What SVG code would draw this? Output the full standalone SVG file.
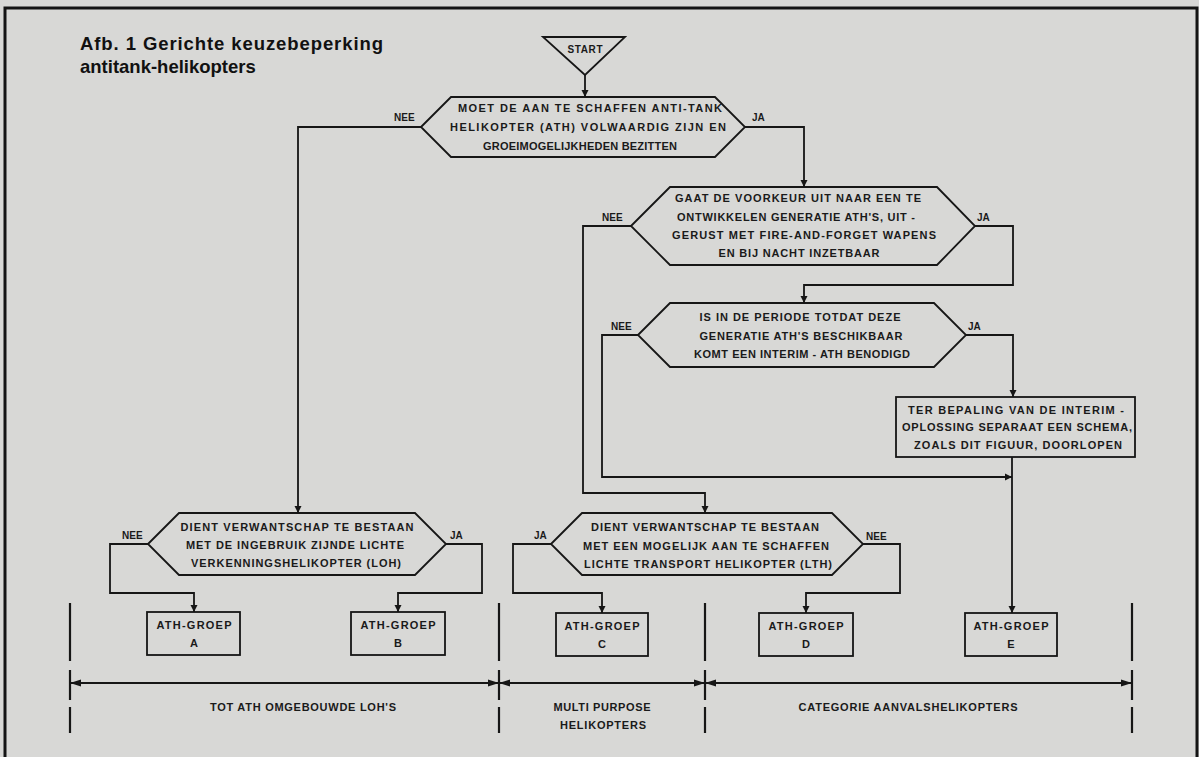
<svg xmlns="http://www.w3.org/2000/svg" width="1199" height="757" viewBox="0 0 1199 757">
<style>
.bg{fill:#d8d8d6}
.frame{stroke:#141414;stroke-width:3;fill:none}
.sh{fill:none;stroke:#161616;stroke-width:1.8;stroke-linejoin:miter}
.ln{fill:none;stroke:#161616;stroke-width:1.8}
.dash{fill:none;stroke:#161616;stroke-width:2.2}
.t{font-family:"Liberation Sans",Arial,sans-serif;font-weight:bold;font-size:11px;fill:#1a1a1a;text-anchor:middle}
.lb{font-family:"Liberation Sans",Arial,sans-serif;font-weight:bold;font-size:10px;fill:#1a1a1a}
.title{font-family:"Liberation Sans",Arial,sans-serif;font-weight:bold;font-size:18.5px;fill:#111}
</style>
<defs>
<marker id="ar" markerWidth="8" markerHeight="12" refX="7" refY="6" orient="auto" markerUnits="userSpaceOnUse">
<path d="M0,2.5 L7,6 L0,9.5 Z" fill="#161616"/>
</marker>
<marker id="ad" markerWidth="12" markerHeight="10" refX="11" refY="5" orient="auto" markerUnits="userSpaceOnUse">
<path d="M0,1.5 L11,5 L0,8.5 Z" fill="#161616"/>
</marker>
</defs>
<rect class="bg" x="0" y="0" width="1199" height="757"/>
<path class="frame" d="M5,757 V8 H1197 V757"/>
<g id="title">
<text class="title" x="80" y="50" textLength="303" lengthAdjust="spacing">Afb. 1  Gerichte keuzebeperking</text>
<text class="title" x="80" y="73">antitank-helikopters</text>
</g>
<g id="start">
<path class="sh" d="M543,37 H625 L585,75 Z"/>
<text class="t" x="585" y="53" style="font-size:10px" textLength="35" lengthAdjust="spacing">START</text>
</g>
<g id="q1">
<path class="sh" d="M421,127 L451,97 H715 L745,127 L715,157 H451 Z"/>
<text class="t" x="590" y="112" textLength="264" lengthAdjust="spacing">MOET DE AAN TE SCHAFFEN ANTI-TANK</text>
<text class="t" x="588" y="131" textLength="276" lengthAdjust="spacing">HELIKOPTER (ATH) VOLWAARDIG ZIJN EN</text>
<text class="t" x="580" y="150" textLength="194" lengthAdjust="spacing">GROEIMOGELIJKHEDEN BEZITTEN</text>
</g>
<g id="q2">
<path class="sh" d="M631,226 L670,187 H937 L975,226 L937,265 H670 Z"/>
<text class="t" x="798" y="202" textLength="246" lengthAdjust="spacing">GAAT DE VOORKEUR UIT NAAR EEN TE</text>
<text class="t" x="796" y="221" textLength="238" lengthAdjust="spacing">ONTWIKKELEN GENERATIE ATH'S, UIT -</text>
<text class="t" x="804" y="239" textLength="264" lengthAdjust="spacing">GERUST MET FIRE-AND-FORGET WAPENS</text>
<text class="t" x="799" y="257" textLength="161" lengthAdjust="spacing">EN BIJ NACHT INZETBAAR</text>
</g>
<g id="q3">
<path class="sh" d="M638,335 L670,303 H934 L966,335 L934,367 H670 Z"/>
<text class="t" x="800" y="321" textLength="201" lengthAdjust="spacing">IS IN DE PERIODE TOTDAT DEZE</text>
<text class="t" x="801" y="340" textLength="203" lengthAdjust="spacing">GENERATIE ATH'S BESCHIKBAAR</text>
<text class="t" x="802" y="358" textLength="216" lengthAdjust="spacing">KOMT EEN INTERIM - ATH BENODIGD</text>
</g>
<g id="interim">
<rect class="sh" x="896" y="397" width="239" height="60"/>
<text class="t" x="1016" y="414" textLength="216" lengthAdjust="spacing">TER BEPALING VAN DE INTERIM -</text>
<text class="t" x="1017" y="431" textLength="230" lengthAdjust="spacing">OPLOSSING SEPARAAT EEN SCHEMA,</text>
<text class="t" x="1018" y="449" textLength="208" lengthAdjust="spacing">ZOALS DIT FIGUUR, DOORLOPEN</text>
</g>
<g id="q4">
<path class="sh" d="M148,544 L179,513 H415 L446,544 L415,575 H179 Z"/>
<text class="t" x="297" y="531" textLength="233" lengthAdjust="spacing">DIENT VERWANTSCHAP TE BESTAAN</text>
<text class="t" x="295" y="549" textLength="218" lengthAdjust="spacing">MET DE INGEBRUIK ZIJNDE LICHTE</text>
<text class="t" x="296" y="567" textLength="210" lengthAdjust="spacing">VERKENNINGSHELIKOPTER (LOH)</text>
</g>
<g id="q5">
<path class="sh" d="M551,544 L582,513 H832 L863,544 L832,575 H582 Z"/>
<text class="t" x="705" y="531" textLength="228" lengthAdjust="spacing">DIENT VERWANTSCHAP TE BESTAAN</text>
<text class="t" x="706" y="550" textLength="246" lengthAdjust="spacing">MET EEN MOGELIJK AAN TE SCHAFFEN</text>
<text class="t" x="708" y="568" textLength="248" lengthAdjust="spacing">LICHTE TRANSPORT HELIKOPTER (LTH)</text>
</g>
<g id="groepA">
<rect class="sh" x="147" y="612" width="93" height="43"/>
<text class="t" x="194" y="629" textLength="75" lengthAdjust="spacing">ATH-GROEP</text>
<text class="t" x="194" y="647">A</text>
</g>
<g id="groepB">
<rect class="sh" x="351" y="612" width="94" height="43"/>
<text class="t" x="398" y="629" textLength="75" lengthAdjust="spacing">ATH-GROEP</text>
<text class="t" x="398" y="647">B</text>
</g>
<g id="groepC">
<rect class="sh" x="556" y="613" width="92" height="43"/>
<text class="t" x="602" y="630" textLength="75" lengthAdjust="spacing">ATH-GROEP</text>
<text class="t" x="602" y="648">C</text>
</g>
<g id="groepD">
<rect class="sh" x="759" y="613" width="94" height="43"/>
<text class="t" x="806" y="630" textLength="75" lengthAdjust="spacing">ATH-GROEP</text>
<text class="t" x="806" y="648">D</text>
</g>
<g id="groepE">
<rect class="sh" x="965" y="613" width="92" height="43"/>
<text class="t" x="1011" y="630" textLength="75" lengthAdjust="spacing">ATH-GROEP</text>
<text class="t" x="1011" y="648">E</text>
</g>
<g id="connectors">
<path class="ln" d="M585,75 V97" marker-end="url(#ar)"/>
<path class="ln" d="M745,127 H804 V187" marker-end="url(#ar)"/>
<path class="ln" d="M421,127 H298 V513" marker-end="url(#ar)"/>
<path class="ln" d="M975,226 H1013 V285 H804 V303" marker-end="url(#ar)"/>
<path class="ln" d="M631,226 H583 V493 H705 V513" marker-end="url(#ar)"/>
<path class="ln" d="M966,335 H1013 V397" marker-end="url(#ar)"/>
<path class="ln" d="M638,335 H602 V477 H1012" marker-end="url(#ar)"/>
<path class="ln" d="M1012,457 V613" marker-end="url(#ar)"/>
<path class="ln" d="M148,544 H110 V593 H194 V612" marker-end="url(#ar)"/>
<path class="ln" d="M446,544 H482 V593 H398 V612" marker-end="url(#ar)"/>
<path class="ln" d="M551,544 H513 V593 H602 V613" marker-end="url(#ar)"/>
<path class="ln" d="M863,544 H900 V593 H806 V613" marker-end="url(#ar)"/>
<text class="lb" x="394" y="121">NEE</text>
<text class="lb" x="752" y="121">JA</text>
<text class="lb" x="602" y="221">NEE</text>
<text class="lb" x="977" y="221">JA</text>
<text class="lb" x="611" y="330">NEE</text>
<text class="lb" x="968" y="330">JA</text>
<text class="lb" x="122" y="539">NEE</text>
<text class="lb" x="450" y="539">JA</text>
<text class="lb" x="534" y="539">JA</text>
<text class="lb" x="866" y="540">NEE</text>
</g>
<g id="categories">
<path class="dash" d="M70,603 V661 M70,670 V700 M70,707 V733"/>
<path class="dash" d="M499,603 V661 M499,670 V700 M499,707 V733"/>
<path class="dash" d="M705,603 V661 M705,670 V700 M705,707 V733"/>
<path class="dash" d="M1132,603 V661 M1132,670 V700 M1132,707 V733"/>
<path class="ln" d="M285,683 H70" marker-end="url(#ad)"/>
<path class="ln" d="M285,683 H499" marker-end="url(#ad)"/>
<path class="ln" d="M602,683 H499" marker-end="url(#ad)"/>
<path class="ln" d="M602,683 H705" marker-end="url(#ad)"/>
<path class="ln" d="M918,683 H705" marker-end="url(#ad)"/>
<path class="ln" d="M918,683 H1132" marker-end="url(#ad)"/>
<text class="t" x="303" y="711" textLength="186" lengthAdjust="spacing">TOT ATH OMGEBOUWDE LOH'S</text>
<text class="t" x="602" y="711" textLength="97" lengthAdjust="spacing">MULTI PURPOSE</text>
<text class="t" x="603" y="729" textLength="86" lengthAdjust="spacing">HELIKOPTERS</text>
<text class="t" x="908" y="711" textLength="219" lengthAdjust="spacing">CATEGORIE AANVALSHELIKOPTERS</text>
</g>
</svg>
